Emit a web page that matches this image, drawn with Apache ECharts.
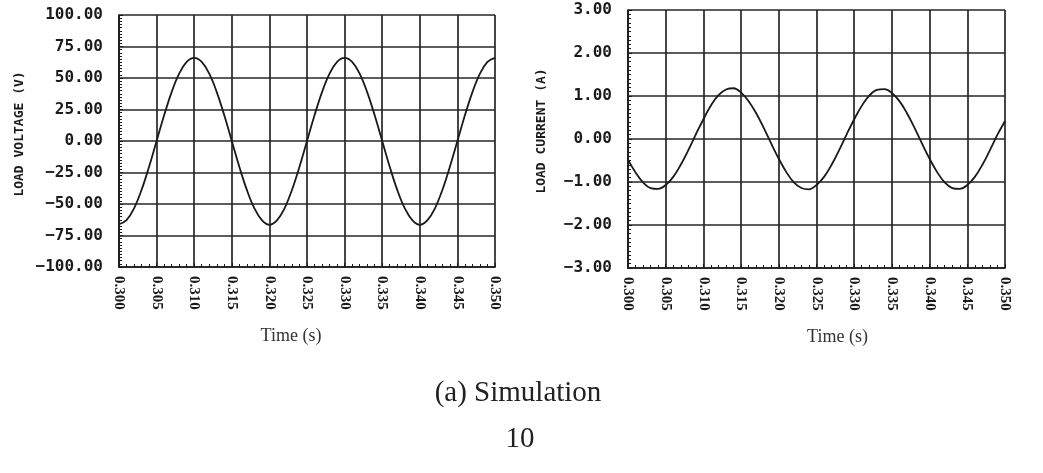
<!DOCTYPE html>
<html>
<head>
<meta charset="utf-8">
<script src="https://cdn.jsdelivr.net/npm/echarts@6/dist/echarts.min.js"></script>
<style>
html,body{margin:0;padding:0;background:#fff;}
#chart{width:1043px;height:473px;}
</style>
</head>
<body>
<div id="chart"></div>
<script>
// Time axis (s)
const timeS = [0.300,0.301,0.302,0.303,0.304,0.305,0.306,0.307,0.308,0.309,
  0.310,0.311,0.312,0.313,0.314,0.315,0.316,0.317,0.318,0.319,
  0.320,0.321,0.322,0.323,0.324,0.325,0.326,0.327,0.328,0.329,
  0.330,0.331,0.332,0.333,0.334,0.335,0.336,0.337,0.338,0.339,
  0.340,0.341,0.342,0.343,0.344,0.345,0.346,0.347,0.348,0.349,0.350];
// Load voltage (V)
const loadVoltage = [-66,-62.8,-53.4,-38.8,-20.4,0,20.4,38.8,53.4,62.8,
  66,62.8,53.4,38.8,20.4,0,-20.4,-38.8,-53.4,-62.8,
  -66.5,-63,-53.6,-38.9,-20.4,0,20.4,38.8,53.4,62.8,
  66,62.8,53.4,38.8,20.4,0,-20.4,-38.8,-53.4,-62.8,
  -66.5,-63,-53.6,-38.9,-20.4,0,20.4,38.8,53.4,62.8,66];
// Load current (A)
const loadCurrent = [-0.48,-0.78,-1.01,-1.14,-1.16,-1.07,-0.88,-0.60,-0.26,0.11,
  0.46,0.78,1.02,1.15,1.18,1.08,0.88,0.60,0.26,-0.11,
  -0.46,-0.77,-1.01,-1.14,-1.17,-1.07,-0.88,-0.60,-0.26,0.11,
  0.46,0.77,1.01,1.14,1.16,1.07,0.88,0.60,0.26,-0.11,
  -0.46,-0.77,-1.01,-1.14,-1.16,-1.07,-0.88,-0.60,-0.26,0.10,0.42];

const xTitle = 'Time (s)';
const yTitleLeft = 'LOAD VOLTAGE (V)';
const yTitleRight = 'LOAD CURRENT (A)';
const caption = '(a) Simulation';
const pageNo = '10';

const ink = '#1a1a1a';
const gridLine = { show: true, lineStyle: { color: '#262626', width: 1.7 } };
const monoBold = { fontFamily: 'DejaVu Sans Mono', fontWeight: 'bold', color: ink };

function xAxisFor(gridIndex, pad) {
  return {
    type: 'value', gridIndex: gridIndex, min: 0.300, max: 0.350, interval: 0.005,
    name: xTitle, nameLocation: 'middle', nameGap: 60,
    nameTextStyle: { fontFamily: 'Liberation Serif', fontSize: 18, color: '#333', padding: pad },
    axisLine: { show: true, onZero: false, lineStyle: { color: ink, width: 1.7 } },
    axisTick: { show: true, inside: true, length: 4, lineStyle: { color: ink } },
    minorTick: { show: true, splitNumber: 5, length: 3, lineStyle: { color: ink } },
    splitLine: gridLine,
    axisLabel: { rotate: -90, margin: 9, fontFamily: 'Liberation Serif', fontWeight: 'bold',
      fontSize: 15, color: ink, formatter: v => v.toFixed(3) }
  };
}
function yAxisFor(gridIndex, min, max, interval, name, gap, pad) {
  return {
    type: 'value', gridIndex: gridIndex, min: min, max: max, interval: interval,
    name: name, nameLocation: 'middle', nameGap: gap, nameRotate: 90,
    nameTextStyle: Object.assign({ fontSize: 13, padding: pad }, monoBold),
    axisLine: { show: true, onZero: false, lineStyle: { color: ink, width: 1.7 } },
    axisTick: { show: true, inside: true, length: 4, lineStyle: { color: ink } },
    minorTick: { show: true, splitNumber: 10, length: 3, lineStyle: { color: ink } },
    splitLine: gridLine,
    axisLabel: Object.assign({ margin: 16, fontSize: 16,
      formatter: v => v.toFixed(2).replace('-', '\u2212') }, monoBold)
  };
}

const chart = echarts.init(document.getElementById('chart'), null, { renderer: 'canvas' });
chart.setOption({
  backgroundColor: '#ffffff',
  animation: false,
  grid: [
    { left: 119, top: 15, width: 376, height: 252 },
    { left: 628, top: 10, width: 377, height: 258 }
  ],
  xAxis: [xAxisFor(0, [0, 32, 0, 0]), xAxisFor(1, [0, 0, 0, 42])],
  yAxis: [
    yAxisFor(0, -100, 100, 25, yTitleLeft, 93, [0, 0, 0, 14]),
    yAxisFor(1, -3, 3, 1, yTitleRight, 80, [0, 0, 0, 16])
  ],
  series: [
    { type: 'line', xAxisIndex: 0, yAxisIndex: 0, smooth: 0.4, showSymbol: false,
      lineStyle: { color: ink, width: 1.8 }, data: timeS.map((t, i) => [t, loadVoltage[i]]) },
    { type: 'line', xAxisIndex: 1, yAxisIndex: 1, smooth: 0.4, showSymbol: false,
      lineStyle: { color: ink, width: 1.8 }, data: timeS.map((t, i) => [t, loadCurrent[i]]) }
  ],
  graphic: [
    { type: 'text', x: 518, y: 393,
      style: { text: caption, font: '29px "Liberation Serif"', fill: '#222',
        align: 'center', verticalAlign: 'middle' } },
    { type: 'text', x: 520, y: 439,
      style: { text: pageNo, font: '29px "Liberation Serif"', fill: '#222',
        align: 'center', verticalAlign: 'middle' } }
  ]
});
</script>
</body>
</html>
